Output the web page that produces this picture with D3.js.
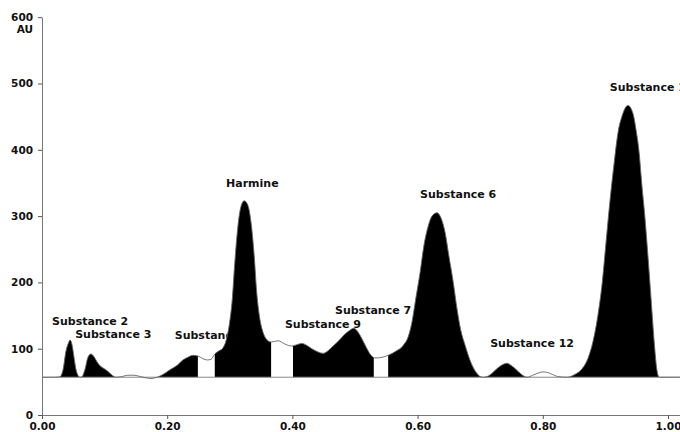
<!DOCTYPE html>
<html>
<head>
<meta charset="utf-8">
<script src="https://cdn.jsdelivr.net/npm/d3@7"></script>
<style>
  body { margin: 0; background: #fff; }
  svg { display: block; }
  .tick text { font-family: "DejaVu Sans", sans-serif; font-weight: bold; font-size: 10.5px; fill: #111; }
</style>
</head>
<body>
<script>
'use strict';

// retention (fraction of run) and detector response (AU)
const traceRt = [0.000, 0.022, 0.029, 0.034, 0.038, 0.042, 0.045, 0.048, 0.051, 0.054, 0.058,
  0.061, 0.064, 0.069, 0.073, 0.078, 0.083, 0.088, 0.093, 0.099, 0.105, 0.112, 0.118,
  0.128, 0.137, 0.147, 0.157, 0.166, 0.174, 0.184, 0.193, 0.204, 0.216, 0.225, 0.233,
  0.241, 0.249, 0.257, 0.264, 0.270, 0.276, 0.283,
  0.288, 0.294, 0.299, 0.304, 0.308, 0.313, 0.318, 0.323, 0.329, 0.334, 0.339, 0.343,
  0.348, 0.353, 0.358, 0.366, 0.377, 0.388,
  0.399, 0.407, 0.415, 0.423, 0.431, 0.441, 0.449, 0.457, 0.465, 0.474, 0.484, 0.492,
  0.498, 0.505, 0.511, 0.518, 0.524, 0.532, 0.543,
  0.553, 0.565, 0.577, 0.585, 0.591, 0.597, 0.604, 0.610, 0.617, 0.623, 0.631, 0.637,
  0.644, 0.650, 0.657, 0.663, 0.669, 0.676, 0.684, 0.693, 0.704,
  0.711, 0.719, 0.727, 0.736, 0.743, 0.749, 0.757, 0.765,
  0.775, 0.784, 0.792, 0.800, 0.808, 0.816, 0.824,
  0.839, 0.851, 0.863, 0.872, 0.880, 0.888, 0.895, 0.901, 0.907, 0.914, 0.920, 0.927,
  0.936, 0.944, 0.949, 0.954, 0.958, 0.963, 0.968, 0.973, 0.978, 0.982, 0.986,
  1.003, 1.019];
const traceAu = [57, 57, 58, 70, 95, 108, 113, 106, 88, 70, 59,
  57, 58, 70, 86, 92, 88, 80, 74, 70, 66, 60, 57,
  58, 60, 60, 58, 56, 55, 57, 61, 68, 75, 83, 87,
  90, 89, 85, 83, 84, 92, 97,
  100, 112, 135, 175, 230, 285, 315, 323, 316, 290, 240, 185,
  145, 125, 115, 110, 112, 107,
  104, 106, 108, 105, 100, 95, 93, 97, 104, 112, 122, 128,
  131, 125, 115, 102, 92, 86, 87,
  90, 96, 105, 118, 140, 175, 215, 255, 285, 300, 305, 298,
  275, 240, 200, 160, 128, 105, 82, 65, 57,
  58, 63, 70, 76, 78, 75, 69, 62,
  57, 60, 63, 65, 64, 61, 58,
  57, 61, 70, 85, 110, 150, 200, 260, 320, 380, 425, 452,
  467, 455, 430, 395, 350, 300, 240, 175, 110, 70, 57,
  57, 57];

const baselineAu = 57;

// integrated (filled) windows
const peakStart = [0.029, 0.064, 0.184, 0.276, 0.401, 0.553, 0.708, 0.839];
const peakEnd = [0.059, 0.118, 0.249, 0.366, 0.530, 0.704, 0.775, 0.986];

// peak labels
const labelText = ["Substance 2", "Substance 3", "Substance 4", "Harmine", "Substance 9",
  "Substance 7", "Substance 6", "Substance 12", "Substance 1"];
const labelRt = [0.016, 0.053, 0.212, 0.294, 0.388, 0.468, 0.604, 0.716, 0.907];
const labelAu = [136, 116, 115, 344, 131, 152, 327, 103, 489];

const xTicks = [0, 0.2, 0.4, 0.6, 0.8, 1.0];
const yTicks = [0, 100, 200, 300, 400, 500, 600];

(function () {

  const width = 680, height = 432;

  let svg = d3.select("body").append("svg")
    .attr("width", width)
    .attr("height", height);

  svg.append("rect").attr("width", width).attr("height", height).attr("fill", "#fff");

  let x = d3.scaleLinear().domain([0, 1.0192]).range([42, 680]);
  let y = d3.scaleLinear().domain([0, 600]).range([415, 17.2]);

  let trace = traceRt.map((rt, i) => ({ rt: rt, au: traceAu[i] }));

  // labels go under the fills, the peaks cover them
  svg.selectAll(".peak-label")
    .data(labelText)
    .enter()
    .append("text")
    .attr("class", "peak-label")
    .attr("x", (d, i) => x(labelRt[i]))
    .attr("y", (d, i) => y(labelAu[i]))
    .style("font-family", "DejaVu Sans, sans-serif")
    .style("font-weight", "bold")
    .style("font-size", "11px")
    .attr("fill", "#111")
    .text((d) => d);

  // clip windows for the integrated peaks
  let clip = svg.append("clipPath").attr("id", "peaks");
  clip.selectAll("rect")
    .data(peakStart)
    .enter()
    .append("rect")
    .attr("x", (d) => x(d))
    .attr("width", (d, i) => x(peakEnd[i]) - x(d))
    .attr("y", 0)
    .attr("height", height);

  let area = d3.area()
    .x((d) => x(d.rt))
    .y0(y(baselineAu))
    .y1((d) => y(d.au))
    .curve(d3.curveMonotoneX);

  svg.append("path")
    .datum(trace)
    .attr("clip-path", "url(#peaks)")
    .attr("fill", "#000")
    .attr("d", area);

  // baseline
  svg.append("line")
    .attr("x1", x(0))
    .attr("x2", x(1.0192))
    .attr("y1", y(baselineAu))
    .attr("y2", y(baselineAu))
    .attr("stroke", "#888")
    .attr("stroke-width", 1);

  // raw trace
  let line = d3.line()
    .x((d) => x(d.rt))
    .y((d) => y(d.au))
    .curve(d3.curveMonotoneX);

  svg.append("path")
    .datum(trace)
    .attr("fill", "none")
    .attr("stroke", "#666")
    .attr("stroke-width", 0.9)
    .attr("d", line);

  // axes
  let xAxis = d3.axisBottom(x)
    .tickValues(xTicks)
    .tickFormat(d3.format(".2f"))
    .tickSize(4)
    .tickSizeOuter(0)
    .tickPadding(3.5);
  let gx = svg.append("g")
    .attr("transform", "translate(0," + y(0) + ")")
    .call(xAxis);

  let yAxis = d3.axisLeft(y)
    .tickValues(yTicks)
    .tickSize(4)
    .tickSizeOuter(0)
    .tickPadding(5);
  let gy = svg.append("g")
    .attr("transform", "translate(" + x(0) + ",0)")
    .call(yAxis);

  [gx, gy].forEach((g) => {
    g.select(".domain").attr("stroke", "#777");
    g.selectAll(".tick line").attr("stroke", "#555");
  });

  // unit under the top tick
  svg.append("text")
    .attr("x", x(0) - 9)
    .attr("y", y(600) + 16)
    .attr("text-anchor", "end")
    .style("font-family", "DejaVu Sans, sans-serif")
    .style("font-weight", "bold")
    .style("font-size", "10.5px")
    .attr("fill", "#111")
    .text("AU");

})();
</script>
</body>
</html>
